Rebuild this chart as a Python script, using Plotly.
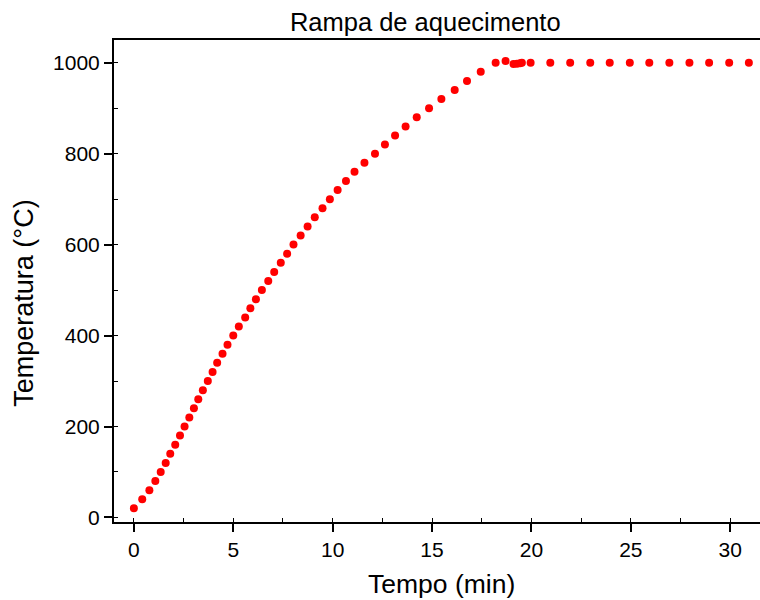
import plotly.graph_objects as go

# Heating ramp data (time in min, temperature in °C)
tempo = [0.0, 0.42, 0.78, 1.08, 1.35, 1.6, 1.83, 2.08, 2.32, 2.55,
         2.79, 3.02, 3.24, 3.47, 3.72, 3.96, 4.19, 4.46, 4.71, 5.0,
         5.28, 5.6, 5.86, 6.14, 6.44, 6.76, 7.06, 7.39, 7.71, 8.03,
         8.39, 8.74, 9.1, 9.49, 9.86, 10.25, 10.67, 11.1, 11.6, 12.13,
         12.63, 13.14, 13.67, 14.23, 14.85, 15.47, 16.14, 16.76, 17.45, 18.2,
         18.7, 19.1, 19.27, 19.43, 19.52, 19.96,
         20.95, 21.95, 22.96, 23.94, 24.95, 25.93, 26.94, 27.95, 28.94, 29.95, 30.94]
temperatura = [20, 40, 60, 80, 100, 120, 140, 160, 180, 200,
               220, 240, 260, 280, 300, 320, 340, 360, 380, 400,
               420, 440, 460, 480, 500, 520, 540, 560, 580, 600,
               620, 640, 660, 680, 700, 720, 740, 760, 780, 800,
               820, 840, 860, 880, 900, 920, 940, 960, 980, 1000,
               1004, 997, 998, 999, 1000, 1000,
               1000, 1000, 1000, 1000, 1000, 1000, 1000, 1000, 1000, 1000, 1000]

x_ticks = [0, 5, 10, 15, 20, 25, 30]
y_ticks = [0, 200, 400, 600, 800, 1000]

FONT = "Liberation Sans, Arial, sans-serif"

# plot area in pixels (for converting annotation positions to paper coords)
L, R, T, B = 113.5, 760.0, 40.0, 521.7
W, H = R - L, B - T

fig = go.Figure()
fig.add_trace(go.Scatter(
    x=tempo, y=temperatura, mode="markers",
    marker=dict(color="#FF0000", size=8, line=dict(width=0)),
    showlegend=False,
))

fig.update_layout(
    width=760, height=600,
    margin=dict(l=L, r=760 - R, t=T, b=600 - B, pad=0),
    paper_bgcolor="white", plot_bgcolor="white",
    font=dict(family=FONT, color="black"),
    title=dict(text="Rampa de aquecimento", font=dict(size=25.5, family=FONT, color="black"),
               xref="paper", x=(425 - L) / W, xanchor="center",
               yref="container", y=1 - 22 / 600, yanchor="middle"),
    annotations=[
        dict(text="Tempo (min)", xref="paper", yref="paper",
             x=(441 - L) / W, y=(B - 584) / H, xanchor="center", yanchor="middle",
             showarrow=False, font=dict(size=26.5, family=FONT, color="black")),
        dict(text="Temperatura (°C)", xref="paper", yref="paper", textangle=-90,
             x=(24 - L) / W, y=(B - 303) / H, xanchor="center", yanchor="middle",
             showarrow=False, font=dict(size=27, family=FONT, color="black")),
    ],
)

fig.update_xaxes(
    range=[-1, 31.5], tickvals=x_ticks, ticktext=[str(v) for v in x_ticks],
    showgrid=False, zeroline=False,
    showline=True, linecolor="black", linewidth=2, mirror=True,
    ticks="outside", ticklen=8, tickwidth=2, tickcolor="black",
    tickfont=dict(size=21, family=FONT, color="black"),
    minor=dict(dtick=2.5, tick0=0, ticks="inside", ticklen=4, tickwidth=1, tickcolor="black", showgrid=False),
)
fig.update_yaxes(
    range=[-10, 1050], tickvals=y_ticks, ticktext=[str(v) for v in y_ticks],
    showgrid=False, zeroline=False,
    showline=True, linecolor="black", linewidth=2, mirror=False,
    ticks="outside", ticklen=8, tickwidth=2, tickcolor="black",
    tickfont=dict(size=21, family=FONT, color="black"),
    minor=dict(dtick=100, tick0=0, ticks="inside", ticklen=4, tickwidth=1, tickcolor="black", showgrid=False),
)

fig.write_html("out.html")
